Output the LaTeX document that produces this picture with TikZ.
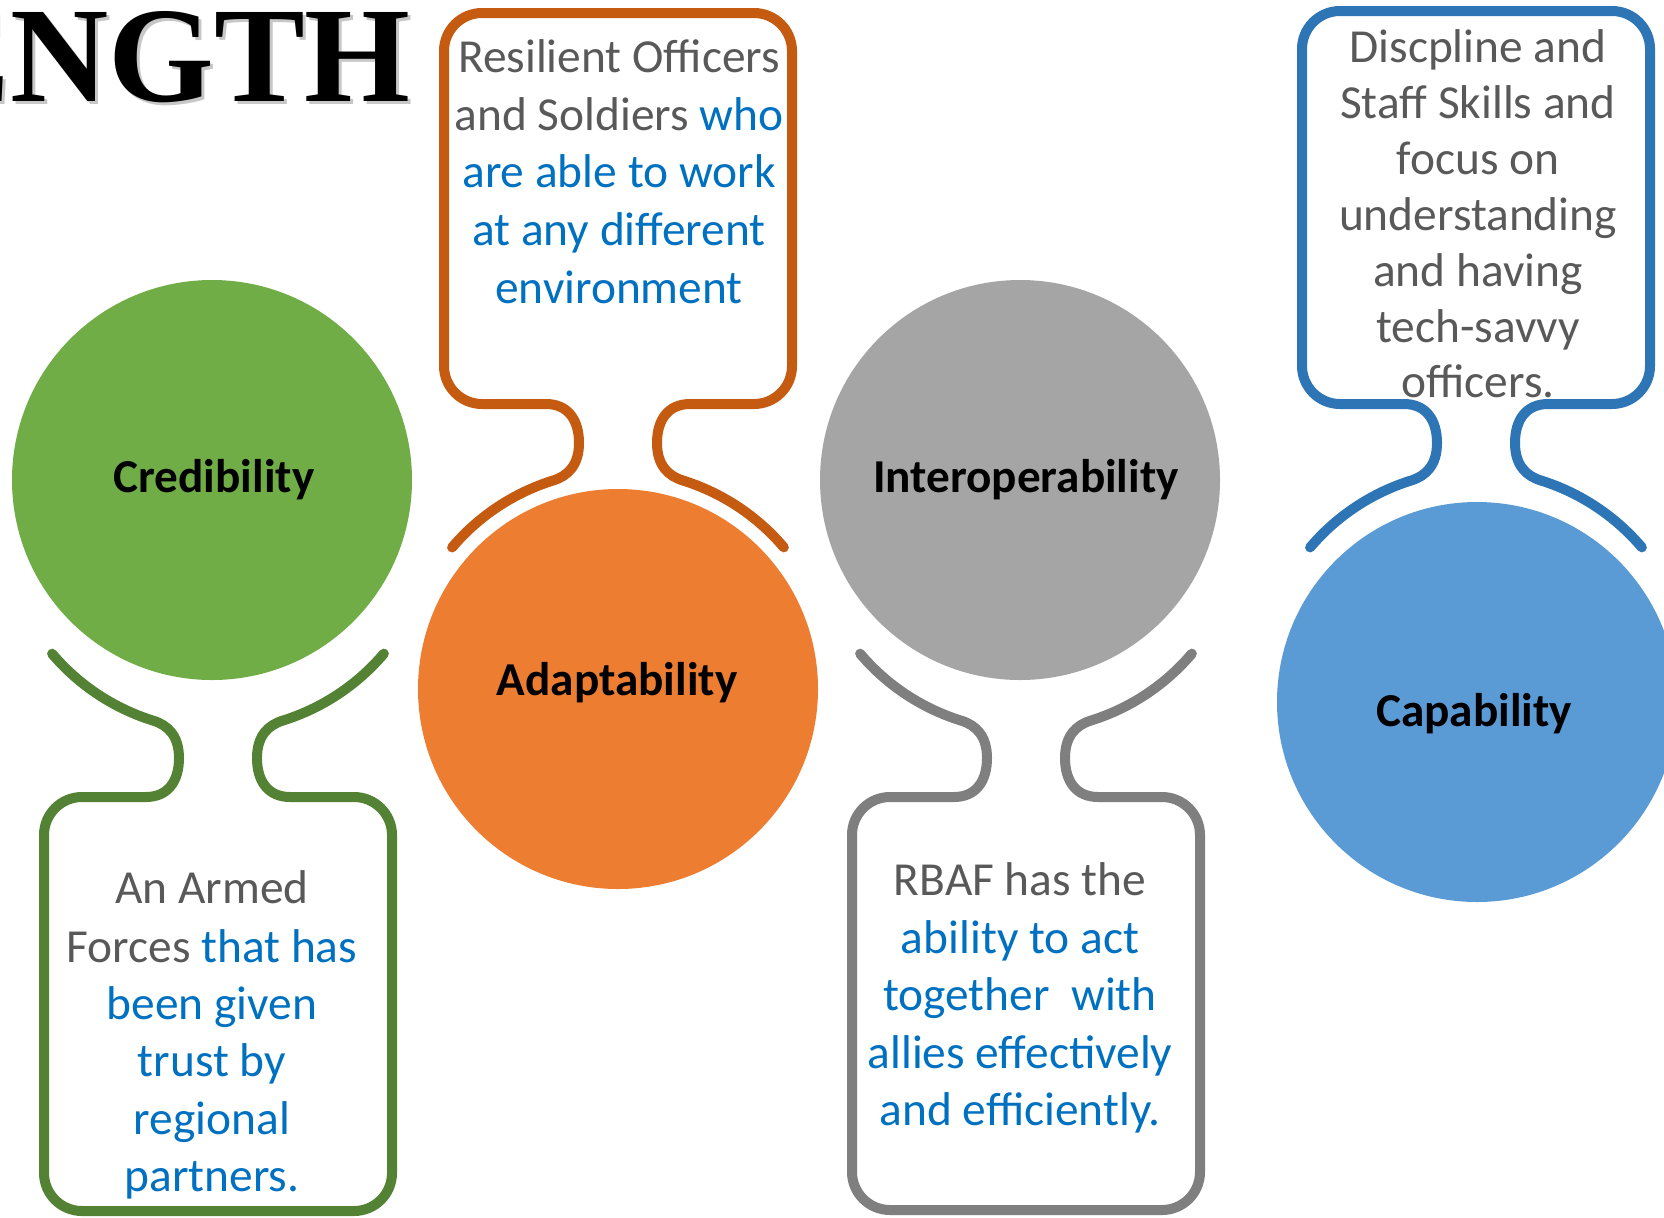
\documentclass[tikz,border=0pt]{standalone}
\usepackage{fontspec}
\setmainfont{Carlito}
\newfontfamily\titlefont{Liberation Serif}
\definecolor{gfill}{HTML}{70AD47}\definecolor{gline}{HTML}{548235}
\definecolor{ofill}{HTML}{ED7D31}\definecolor{oline}{HTML}{C55A11}
\definecolor{afill}{HTML}{A5A5A5}\definecolor{aline}{HTML}{7F7F7F}
\definecolor{bfill}{HTML}{5B9BD5}\definecolor{bline}{HTML}{2E75B6}
\definecolor{txtgray}{HTML}{595959}\definecolor{txtblue}{HTML}{0070C0}
\tikzset{
  bubble/.style={circle, minimum size=200pt, inner sep=0pt, draw=none},
  callout/.style={line width=5pt, line cap=round, line join=round},
  lbl/.style={font=\bfseries\fontsize{23.6pt}{28pt}\selectfont, inner sep=0pt, anchor=base, text=black},
  txt/.style={font=\fontsize{23.7pt}{28pt}\selectfont, inner sep=0pt, anchor=base, text=txtgray},
  ttl/.style={font=\titlefont\bfseries\fontsize{68pt}{70pt}\selectfont, anchor=base east, inner sep=0pt},
}
% callout above a circle: #1 neck centre x, #2 colour, #3 box top y
\newcommand\topcallout[3]{%
\draw[callout, draw=#2] ({#1-165.9},547.4) arc[start angle=220.3, end angle=252.6, radius=217.5]
 .. controls ({#1-50},476) and ({#1-39},465) .. ({#1-39},443)
 .. controls ({#1-39},420) and ({#1-50},404) .. ({#1-72},404)
 -- ({#1-136},404) arc[start angle=90, end angle=180, radius=38]
 -- ({#1-174},{#3+38}) arc[start angle=180, end angle=270, radius=38]
 -- ({#1+136},#3) arc[start angle=270, end angle=360, radius=38]
 -- ({#1+174},366) arc[start angle=0, end angle=90, radius=38]
 -- ({#1+72},404)
 .. controls ({#1+50},404) and ({#1+39},420) .. ({#1+39},443)
 .. controls ({#1+39},465) and ({#1+50},476) .. ({#1+65},480.5)
 arc[start angle=287.4, end angle=319.7, radius=217.5];}
% callout below a circle: #1 neck centre x, #2 colour, #3 box bottom y
\newcommand\botcallout[3]{%
\draw[callout, draw=#2] ({#1-165.9},653.7) arc[start angle=139.7, end angle=107.4, radius=217.5]
 .. controls ({#1-50},725) and ({#1-39},736) .. ({#1-39},758)
 .. controls ({#1-39},781) and ({#1-50},797) .. ({#1-72},797)
 -- ({#1-136},797) arc[start angle=270, end angle=180, radius=38]
 -- ({#1-174},{#3-38}) arc[start angle=180, end angle=90, radius=38]
 -- ({#1+136},#3) arc[start angle=90, end angle=0, radius=38]
 -- ({#1+174},835) arc[start angle=0, end angle=-90, radius=38]
 -- ({#1+72},797)
 .. controls ({#1+50},797) and ({#1+39},781) .. ({#1+39},758)
 .. controls ({#1+39},736) and ({#1+50},725) .. ({#1+65},720.5)
 arc[start angle=72.6, end angle=40.3, radius=217.5];}
\begin{document}
\begin{tikzpicture}[x=0.5pt, y=-0.5pt]
\useasboundingbox (0,0) rectangle (1664,1217);
\clip (0,0) rectangle (1664,1217);
\fill[white] (0,0) rectangle (1664,1217);

% title (cut off at the left edge, as in the reference)
\node[ttl, text=black!22] (titleshadow) at (414,104) {ENGTH};
\node[ttl] (title) at (411,101) {ENGTH};

% circles
\node[bubble, fill=gfill] (cred) at (212,480) {};
\node[bubble, fill=ofill] (adap) at (618,689) {};
\node[bubble, fill=afill] (inter) at (1020,480) {};
\node[bubble, fill=bfill] (capa) at (1477,702) {};

\node[lbl] (credl) at (214,492) {Credibility};
\node[lbl] (adapl) at (617,695) {Adaptability};
\node[lbl] (interl) at (1026,492) {Interoperability};
\node[lbl] (capal) at (1474,726) {Capability};

% callouts
\botcallout{218}{gline}{1211}
\topcallout{618}{oline}{13}
\botcallout{1026}{aline}{1210}
\topcallout{1476}{bline}{11}

% orange text
\node[txt] (o1) at (619,72) {Resilient Officers};
\node[txt] (o2) at (619,130) {and Soldiers \textcolor{txtblue}{who}};
\node[txt, text=txtblue] (o3) at (619,187) {are able to work};
\node[txt, text=txtblue] (o4) at (619,245) {at any different};
\node[txt, text=txtblue] (o5) at (619,303) {environment};

% green text
\node[txt] (g1) at (212,903) {An Armed};
\node[txt] (g2) at (212,962) {Forces \textcolor{txtblue}{that has}};
\node[txt, text=txtblue] (g3) at (212,1019) {been given};
\node[txt, text=txtblue] (g4) at (212,1076) {trust by};
\node[txt, text=txtblue] (g5) at (212,1134) {regional};
\node[txt, text=txtblue] (g6) at (212,1191) {partners.};

% gray text
\node[txt] (a1) at (1020,895) {RBAF has the};
\node[txt, text=txtblue] (a2) at (1020,953) {ability to act};
\node[txt, text=txtblue] (a3) at (1020,1010) {together\ \ with};
\node[txt, text=txtblue] (a4) at (1020,1068) {allies effectively};
\node[txt, text=txtblue] (a5) at (1020,1125) {and efficiently.};

% blue text
\node[txt] (b1) at (1478,62) {Discpline and};
\node[txt] (b2) at (1478,118) {Staff Skills and};
\node[txt] (b3) at (1478,174) {focus on};
\node[txt] (b4) at (1478,230) {understanding};
\node[txt] (b5) at (1478,286) {and having};
\node[txt] (b6) at (1478,342) {tech-savvy};
\node[txt] (b7) at (1478,397) {officers.};
\end{tikzpicture}
\end{document}
